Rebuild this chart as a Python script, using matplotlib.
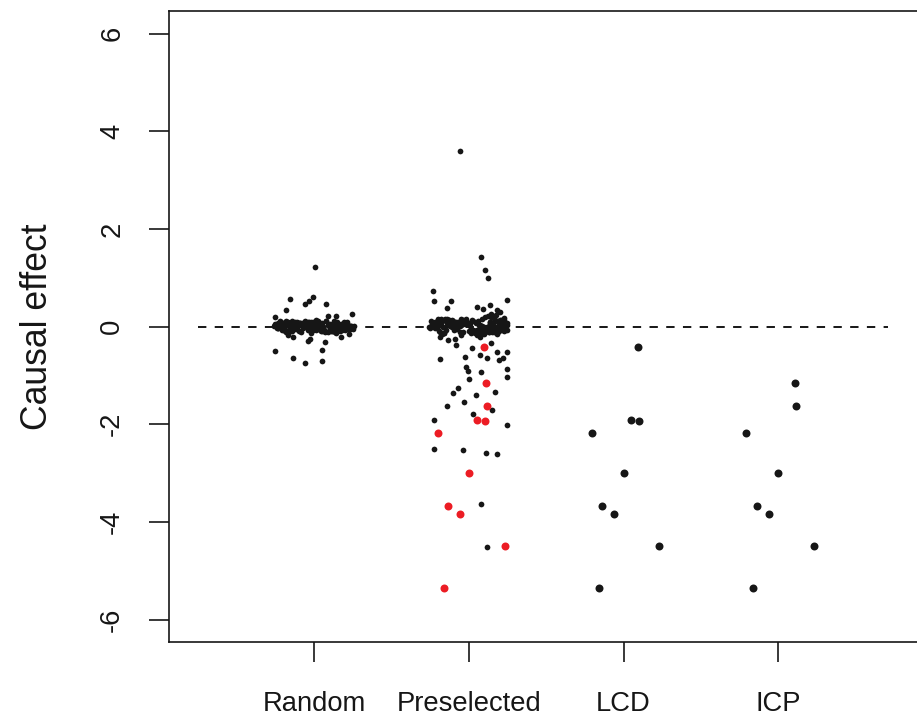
import matplotlib
matplotlib.use("Agg")
import matplotlib.pyplot as plt

plt.rcParams['font.family'] = ['Liberation Sans', 'DejaVu Sans']
plt.rcParams['axes.unicode_minus'] = False

categories = ["Random", "Preselected", "LCD", "ICP"]
yticks = [-6, -4, -2, 0, 2, 4, 6]

# Random group: dense cluster near 0 (jitter offset, value)
rand_cx = [-0.25, -0.21, -0.17, -0.24, -0.12, -0.19, -0.08, -0.15, -0.03, -0.22,
           0.02, -0.10, 0.06, -0.05, 0.11, -0.14, 0.15, 0.01, 0.19, -0.07,
           0.23, 0.04, -0.18, 0.09, -0.01, 0.13, -0.11, 0.17, -0.23, 0.21,
           -0.04, 0.25, -0.16, 0.07, -0.09, 0.12, -0.20, 0.16, -0.02, 0.24,
           -0.13, 0.05, -0.26, 0.10, -0.06, 0.14, -0.18, 0.20, 0.00, -0.11,
           0.18, -0.24, 0.08, -0.15, 0.22, -0.08, 0.03, -0.19, 0.13, -0.03,
           0.26, -0.12, 0.06, -0.21, 0.11, -0.05, 0.17, -0.16, 0.02, 0.23,
           -0.10, 0.09, -0.22, 0.15, -0.01, 0.20, -0.14, 0.04, -0.25, 0.12,
           -0.07, 0.18, -0.17, 0.07, 0.24, -0.09, 0.01, -0.20, 0.14, -0.04,
           0.21, -0.13, 0.10, -0.23, 0.05, 0.16, -0.06, 0.19, -0.18, 0.03,
           -0.235, -0.195, -0.145, -0.105, -0.065, -0.025, 0.015, 0.055, 0.095, 0.135,
           0.175, 0.215, 0.245, -0.215, -0.165, -0.125, -0.085, -0.045, 0.035, 0.075,
           0.115, 0.155, 0.195, 0.235, -0.255, -0.175, -0.135, -0.055, -0.015, 0.025,
           0.065, 0.105, 0.145, 0.185, 0.225, -0.205, -0.115, -0.035, 0.045, 0.125]
rand_cy = [0.04, -0.06, 0.09, -0.02, 0.01, -0.10, 0.06, 0.00, -0.05, 0.11,
           0.03, -0.08, -0.01, 0.07, -0.04, 0.02, 0.10, -0.07, 0.05, -0.03,
           0.00, 0.08, -0.11, 0.04, -0.06, 0.12, 0.01, -0.09, -0.02, 0.06,
           0.09, -0.04, 0.03, -0.12, 0.07, -0.01, 0.05, -0.07, 0.10, 0.02,
           -0.05, 0.08, 0.01, -0.03, 0.11, -0.08, 0.04, -0.02, 0.06, 0.09,
           -0.06, 0.00, 0.12, -0.10, 0.03, 0.07, -0.04, 0.01, -0.07, 0.05,
           0.02, 0.10, -0.01, 0.06, -0.09, 0.04, -0.03, 0.08, -0.05, -0.02,
           0.07, -0.11, 0.03, 0.00, 0.09, -0.06, 0.11, -0.04, 0.05, -0.08,
           0.01, -0.03, 0.06, -0.10, 0.02, 0.08, -0.05, 0.04, 0.00, -0.07,
           0.10, 0.03, -0.02, 0.07, -0.09, -0.01, 0.05, -0.04, 0.12, 0.02,
           -0.03, 0.05, -0.09, 0.02, 0.08, -0.06, 0.13, -0.01, 0.04, -0.12,
           0.06, -0.04, 0.00, 0.10, -0.07, 0.03, -0.11, 0.07, -0.02, 0.12,
           -0.08, 0.01, 0.09, -0.05, 0.04, -0.10, 0.08, 0.02, -0.03, 0.11,
           -0.06, 0.05, -0.13, 0.03, -0.01, 0.07, -0.04, 0.10, -0.09, 0.06]
# Random group: outlying points
rand_ox = [0.005, -0.155, -0.005, -0.03, -0.056, 0.078, -0.183, 0.244, 0.092, 0.142,
           -0.252, -0.166, -0.138, -0.021, -0.026, -0.037, 0.071, 0.176, 0.224, 0.054,
           -0.25, -0.138, 0.05, -0.056]
rand_oy = [1.23, 0.57, 0.60, 0.53, 0.47, 0.47, 0.33, 0.26, 0.22, 0.22,
           0.20, -0.17, -0.21, -0.14, -0.25, -0.29, -0.32, -0.21, -0.16, -0.47,
           -0.49, -0.64, -0.70, -0.75]

# Preselected group: dense cluster near 0
pre_cx = [-0.24, -0.19, -0.13, -0.22, -0.08, -0.16, -0.03, -0.11, 0.02, -0.20,
          0.07, -0.06, 0.12, -0.01, 0.17, -0.14, 0.21, 0.04, 0.25, -0.09,
          0.10, 0.19, -0.17, 0.14, 0.00, 0.23, -0.12, 0.08, -0.25, 0.16,
          -0.04, 0.22, -0.21, 0.05, -0.07, 0.13, -0.18, 0.18, -0.02, 0.24,
          -0.15, 0.06, -0.23, 0.11, -0.05, 0.15, -0.10, 0.20, 0.01, -0.13,
          0.09, -0.26, 0.16, -0.16, 0.22, -0.08, 0.03, -0.20, 0.12, -0.01,
          0.25, -0.11, 0.07, -0.22, 0.18, -0.04, 0.14, -0.17, 0.05, 0.21,
          -0.12, 0.10, -0.24, 0.17, 0.02, 0.23, -0.14, 0.08, -0.19, 0.13,
          -0.06, 0.19, -0.09, 0.04, 0.24, -0.15, 0.11, -0.02, 0.15, 0.06,
          0.20, -0.07, 0.09, -0.21, 0.16, 0.12, -0.03, 0.22, -0.18, 0.01,
          0.18, 0.14, -0.10, 0.07, 0.21, 0.10, -0.05, 0.17, 0.03, 0.13,
          -0.235, -0.185, -0.125, -0.075, -0.025, 0.035, 0.085, 0.135, 0.185, 0.235,
          -0.205, -0.155, -0.095, -0.045, 0.015, 0.065, 0.115, 0.165, 0.215, 0.245,
          -0.245, -0.165, -0.105, -0.035, 0.045, 0.095, 0.145, 0.195, 0.225, 0.155,
          0.205, 0.105, 0.175, 0.055, 0.125, 0.195, 0.085, 0.225, 0.135, 0.175]
pre_cy = [0.06, -0.09, 0.13, -0.03, 0.02, -0.14, 0.09, 0.00, -0.07, 0.16,
          0.04, -0.12, -0.02, 0.10, -0.06, 0.03, 0.14, -0.10, 0.07, -0.04,
          0.00, 0.12, -0.16, 0.05, -0.08, 0.17, 0.01, -0.13, -0.03, 0.09,
          0.13, -0.05, 0.04, -0.17, 0.10, -0.01, 0.07, -0.10, 0.15, 0.03,
          -0.07, 0.11, 0.02, -0.04, 0.16, -0.11, 0.06, -0.03, 0.08, 0.13,
          -0.09, 0.00, 0.17, -0.14, 0.05, 0.10, -0.06, 0.02, -0.10, 0.07,
          0.03, 0.14, -0.01, 0.09, -0.13, 0.05, -0.04, 0.11, -0.07, -0.02,
          0.10, -0.15, 0.04, 0.00, 0.13, -0.08, 0.15, -0.05, 0.07, -0.11,
          0.01, -0.04, 0.08, -0.14, 0.03, 0.11, -0.07, 0.06, 0.00, -0.10,
          0.14, 0.04, -0.03, 0.10, -0.12, -0.01, 0.07, -0.06, 0.16, 0.02,
          -0.08, 0.05, 0.12, -0.02, 0.08, -0.05, 0.03, -0.09, 0.11, -0.12,
          0.02, -0.11, 0.07, -0.04, 0.12, -0.08, 0.01, 0.09, -0.15, 0.05,
          -0.02, 0.15, -0.06, 0.10, -0.13, 0.04, -0.09, 0.18, 0.00, -0.07,
          0.11, -0.01, 0.06, -0.12, 0.08, -0.05, 0.20, -0.10, 0.13, 0.22,
          -0.03, 0.19, 0.24, -0.08, 0.21, 0.06, 0.16, -0.02, 0.10, -0.06]
# Preselected group: outlying black points
pre_ox = [-0.056, 0.078, 0.103, 0.121, -0.231, -0.222, -0.114, 0.244, 0.05, 0.134,
          -0.138, 0.09, 0.181, 0.202, 0.142, -0.187, -0.134, -0.086, -0.084, 0.071,
          0.142, -0.052, 0.019, -0.024, 0.071, 0.116, -0.183, 0.181, 0.246, 0.218,
          0.194, -0.019, -0.008, 0.080, 0.248, 0.246, 0.002, -0.069, -0.101, 0.168,
          0.047, -0.14, -0.032, 0.149, 0.028, -0.228, 0.248, -0.222, -0.037, 0.114,
          0.181, 0.076, 0.118]
pre_oy = [3.60, 1.43, 1.16, 1.00, 0.73, 0.53, 0.52, 0.55, 0.41, 0.44,
          0.39, 0.36, 0.34, 0.30, 0.25, -0.21, -0.27, -0.26, -0.38, -0.21,
          -0.33, -0.17, -0.44, -0.62, -0.58, -0.65, -0.67, -0.53, -0.52, -0.64,
          -0.68, -0.83, -0.90, -0.92, -0.87, -1.04, -1.07, -1.26, -1.36, -1.33,
          -1.40, -1.62, -1.55, -1.71, -1.79, -1.91, -2.02, -2.51, -2.53, -2.58,
          -2.60, -3.64, -4.52]
# Preselected group: highlighted (red) points
red_ox = [0.097, 0.112, 0.118, 0.052, 0.103, -0.202, 0.002, -0.136, -0.06, 0.233, -0.16]
red_oy = [-0.42, -1.16, -1.63, -1.91, -1.93, -2.17, -2.99, -3.68, -3.84, -4.50, -5.36]

# LCD and ICP
lcd_ox = [0.095, 0.047, 0.10, -0.205, 0.0, -0.138, -0.063, 0.23, -0.16]
lcd_oy = [-0.42, -1.91, -1.93, -2.17, -2.99, -3.68, -3.83, -4.50, -5.36]
icp_ox = [0.11, 0.116, -0.207, 0.0, -0.138, -0.063, 0.23, -0.164]
icp_oy = [-1.16, -1.63, -2.17, -2.99, -3.68, -3.83, -4.50, -5.36]

BLACK = "#161616"
RED = "#ec1c24"
S_SMALL = 17
S_BIG = 33

fig = plt.figure(figsize=(9.17, 7.21), dpi=100)
ax = fig.add_axes([169 / 917, 79 / 721, (964 - 169) / 917, (642 - 10.7) / 721])

ax.hlines(0, 0.25, 4.71, colors=BLACK, linestyles=(0, (4.3, 4.3)), linewidth=1.4, zorder=1)

ax.scatter([1 + v for v in rand_cx], rand_cy, s=S_SMALL, color=BLACK, linewidths=0, zorder=2)
ax.scatter([1 + v for v in rand_ox], rand_oy, s=S_SMALL, color=BLACK, linewidths=0, zorder=2)
ax.scatter([2 + v for v in pre_cx], pre_cy, s=S_SMALL, color=BLACK, linewidths=0, zorder=2)
ax.scatter([2 + v for v in pre_ox], pre_oy, s=S_SMALL, color=BLACK, linewidths=0, zorder=2)
ax.scatter([2 + v for v in red_ox], red_oy, s=S_BIG, color=RED, linewidths=0, zorder=3)
ax.scatter([3 + v for v in lcd_ox], lcd_oy, s=S_BIG, color=BLACK, linewidths=0, zorder=3)
ax.scatter([4 + v for v in icp_ox], icp_oy, s=S_BIG, color=BLACK, linewidths=0, zorder=3)

ax.set_xlim(0.0627, 5.2)
ax.set_ylim(-6.46, 6.47)
ax.set_xticks([1, 2, 3, 4])
ax.set_xticklabels(categories)
ax.set_yticks(yticks)
ax.set_yticklabels([str(v) for v in yticks], rotation=90, va='center')

for sp in ax.spines.values():
    sp.set_linewidth(1.2)
    sp.set_color(BLACK)
ax.tick_params(axis='both', length=14.5, width=1.2, color=BLACK, labelsize=19.7, labelcolor=BLACK)
ax.tick_params(axis='y', pad=17)
ax.tick_params(axis='x', pad=21)

ax.set_ylabel("Causal effect", fontsize=25.6, color=BLACK, labelpad=32)

fig.savefig("out.png", dpi=100)
